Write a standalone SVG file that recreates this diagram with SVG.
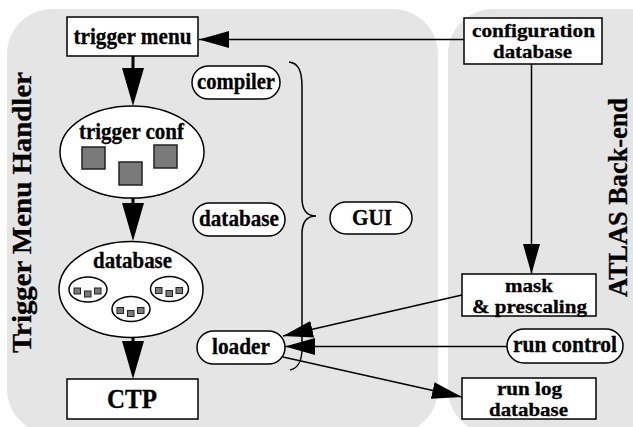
<svg xmlns="http://www.w3.org/2000/svg" width="633" height="427" viewBox="0 0 633 427" font-family="'Liberation Serif', 'Times New Roman', serif">
<style>
  .panel { fill: #e5e5e5; stroke: none; }
  .box { fill: #ffffff; stroke: #000; stroke-width: 1.5; }
  text { font-family: 'Liberation Serif', 'Times New Roman', serif; font-weight: bold; fill: #000; stroke: #000; stroke-width: 0.3; }
  .t { font-size: 23px; text-anchor: middle; }
  .t2 { font-size: 19px; text-anchor: middle; }
  .big { font-size: 27px; text-anchor: middle; }
  .side { font-size: 28px; }
  .sq { fill: #7a7a7a; stroke: #222; stroke-width: 1.5; }
  .sqs { fill: #7a7a7a; stroke: #222; stroke-width: 1; }
  .thin { fill: none; stroke: #000; stroke-width: 1.5; }
  .thick { fill: none; stroke: #000; stroke-width: 3; }
</style>
<defs>
  <marker id="ah" markerUnits="userSpaceOnUse" markerWidth="30" markerHeight="17" refX="30" refY="8.5" orient="auto">
    <path d="M0,0 L30,8.5 L0,17 z" fill="#000"/>
  </marker>
  <marker id="ahb" markerUnits="userSpaceOnUse" markerWidth="38" markerHeight="22" refX="18" refY="11" orient="auto">
    <path d="M0,0 L38,11 L0,22 z" fill="#000"/>
  </marker>
  <g id="cluster">
    <ellipse cx="0" cy="0" rx="19" ry="12.5" class="box"/>
    <rect x="-14" y="-1.5" width="6.5" height="6" class="sqs"/>
    <rect x="-3.5" y="1.5" width="6.5" height="6" class="sqs"/>
    <rect x="6.5" y="-1.5" width="6.5" height="6" class="sqs"/>
  </g>
</defs>

<g id="panels">
  <rect class="panel" x="7" y="9" width="431" height="425" rx="45"/>
  <rect class="panel" x="448" y="9" width="240" height="425" rx="45"/>
  <text class="side" transform="translate(31,353) rotate(-90)" textLength="281" lengthAdjust="spacingAndGlyphs">Trigger Menu Handler</text>
  <text class="side" transform="translate(627,297) rotate(-90)" textLength="199" lengthAdjust="spacingAndGlyphs">ATLAS Back-end</text>
</g>

<g id="connectors">
  <line class="thin" x1="464" y1="39.5" x2="199" y2="39.5" marker-end="url(#ah)"/>
  <line class="thin" x1="531.5" y1="64" x2="531.5" y2="274" marker-end="url(#ah)"/>
  <line class="thin" x1="462" y1="295" x2="283" y2="336" marker-end="url(#ah)"/>
  <line class="thin" x1="507" y1="346.5" x2="285" y2="346.5" marker-end="url(#ah)"/>
  <line class="thin" x1="283" y1="357" x2="462" y2="397" marker-end="url(#ah)"/>
  <line class="thick" x1="133" y1="56" x2="133" y2="86" marker-end="url(#ahb)"/>
  <line class="thick" x1="133" y1="198" x2="133" y2="221" marker-end="url(#ahb)"/>
  <line class="thick" x1="133" y1="338" x2="133" y2="359" marker-end="url(#ahb)"/>
  <path class="thin" d="M289,62 C298,63 302,70 302,87 L302,198 C302,210 306,216 316,216 C306,216 302,222 302,234 L302,348 C302,362 298,368 290,370"/>
</g>

<g id="trigger-menu">
  <rect class="box" x="67" y="17" width="131" height="39"/>
  <text class="t" x="132.5" y="44" textLength="118" lengthAdjust="spacingAndGlyphs">trigger menu</text>
</g>

<g id="trigger-conf">
  <ellipse class="box" cx="132" cy="152" rx="72" ry="46"/>
  <text class="t" x="131.5" y="139" textLength="105" lengthAdjust="spacingAndGlyphs">trigger conf</text>
  <rect class="sq" x="82" y="147" width="23" height="22"/>
  <rect class="sq" x="119" y="162" width="23" height="23"/>
  <rect class="sq" x="154" y="145" width="23" height="23"/>
</g>

<g id="database-main">
  <ellipse class="box" cx="131" cy="289.5" rx="72" ry="48"/>
  <text class="t" x="132.5" y="268" textLength="79" lengthAdjust="spacingAndGlyphs">database</text>
  <use href="#cluster" x="88" y="289.5"/>
  <use href="#cluster" x="131" y="309"/>
  <use href="#cluster" x="169.5" y="289"/>
</g>

<g id="ctp">
  <rect class="box" x="67" y="379" width="131" height="40"/>
  <text class="big" x="132" y="408" textLength="50" lengthAdjust="spacingAndGlyphs">CTP</text>
</g>

<g id="compiler">
  <rect class="box" x="192" y="66" width="88" height="33" rx="16.5"/>
  <text class="t" x="236" y="89" textLength="78" lengthAdjust="spacingAndGlyphs">compiler</text>
</g>

<g id="database-pill">
  <rect class="box" x="193" y="203" width="92" height="33" rx="16.5"/>
  <text class="t" x="239" y="225.5" textLength="80" lengthAdjust="spacingAndGlyphs">database</text>
</g>

<g id="gui">
  <rect class="box" x="330" y="202" width="82" height="32" rx="16"/>
  <text class="t" x="372" y="224.5" textLength="40" lengthAdjust="spacingAndGlyphs">GUI</text>
</g>

<g id="loader">
  <rect class="box" x="197" y="331" width="88" height="33" rx="16.5"/>
  <text class="t" x="241" y="354" textLength="58" lengthAdjust="spacingAndGlyphs">loader</text>
</g>

<g id="config-db">
  <rect class="box" x="464" y="18" width="138" height="46"/>
  <text class="t2" x="533.5" y="37" textLength="123" lengthAdjust="spacingAndGlyphs">configuration</text>
  <text class="t2" x="532.5" y="58" textLength="79" lengthAdjust="spacingAndGlyphs">database</text>
</g>

<g id="mask">
  <rect class="box" x="462" y="274" width="134" height="42"/>
  <text class="t2" x="529" y="291.5" textLength="48" lengthAdjust="spacingAndGlyphs">mask</text>
  <text class="t2" x="529.5" y="312.5" textLength="115" lengthAdjust="spacingAndGlyphs">&amp; prescaling</text>
</g>

<g id="run-control">
  <rect class="box" x="507" y="329" width="116" height="34" rx="17"/>
  <text class="t" x="565" y="352" textLength="104" lengthAdjust="spacingAndGlyphs">run control</text>
</g>

<g id="run-log">
  <rect class="box" x="462" y="378" width="134" height="41"/>
  <text class="t2" x="529.5" y="394.5" textLength="65" lengthAdjust="spacingAndGlyphs">run log</text>
  <text class="t2" x="528.5" y="415.5" textLength="79" lengthAdjust="spacingAndGlyphs">database</text>
</g>
</svg>
